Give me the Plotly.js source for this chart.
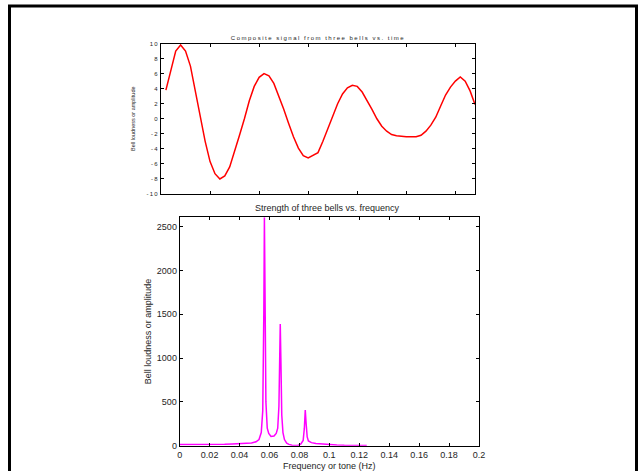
<!DOCTYPE html>
<html>
<head>
<meta charset="utf-8">
<script src="https://cdn.plot.ly/plotly-3.0.1.min.js"></script>
<style>
html, body { margin: 0; padding: 0; background: #fff; }
#chart { width: 639px; height: 471px; }
#chart .gtitle { letter-spacing: 1.5px; }
#chart .ytick text { letter-spacing: 1.2px; }
</style>
</head>
<body>
<div id="chart"></div>
<script>
// Top plot: composite signal (sample index vs amplitude)
const sampleIndex = [1,2,3,4,5,6,7,8,9,10,11,12,13,14,15,16,17,18,19,20,21,22,23,24,25,26,27,28,29,30,31,32,33,34,35,36,37,38,39,40,41,42,43,44,45,46,47,48,49,50,51,52,53,54,55,56,57,58,59,60,61,62,63,64];
const signalValues = [3.8, 6.5, 9.0, 9.8, 9.0, 7.0, 3.8, 0.3, -3.0, -5.7, -7.3, -8.0, -7.6, -6.4, -4.4, -2.2, 0.0, 2.4, 4.3, 5.5, 6.0, 5.7, 4.7, 3.1, 1.3, -0.6, -2.4, -3.9, -4.9, -5.2, -4.9, -4.5, -3.0, -1.3, 0.4, 2.0, 3.3, 4.1, 4.45, 4.3, 3.55, 2.45, 1.25, 0.0, -1.0, -1.65, -2.1, -2.25, -2.35, -2.4, -2.4, -2.4, -2.2, -1.65, -0.85, 0.2, 1.7, 3.15, 4.2, 5.0, 5.55, 5.0, 3.7, 1.9];
const topXTicks = [0, 10, 20, 30, 40, 50, 60];
const topYTickVals = [-10, -8, -6, -4, -2, 0, 2, 4, 6, 8, 10];
const topYTickText = ["-10", "-8", "-6", "-4", "-2", "0", "2", "4", "6", "8", "10"];

// Bottom plot: spectrum (frequency vs strength)
const frequency = [0, 0.005, 0.01, 0.015, 0.02, 0.025, 0.03, 0.035, 0.04, 0.045, 0.048, 0.051, 0.053, 0.0545, 0.0555, 0.0562, 0.0566, 0.057, 0.0576, 0.0585, 0.0595, 0.061, 0.063, 0.0645, 0.0655, 0.0663, 0.0668, 0.0672, 0.0676, 0.0682, 0.069, 0.07, 0.0715, 0.073, 0.075, 0.077, 0.079, 0.081, 0.0825, 0.0833, 0.0839, 0.0845, 0.0852, 0.086, 0.088, 0.091, 0.095, 0.1, 0.105, 0.11, 0.115, 0.12, 0.125];
const strength = [15, 14, 14, 14, 14, 15, 16, 19, 22, 27, 30, 45, 70, 150, 400, 1500, 2607, 1800, 500, 200, 140, 105, 110, 140, 200, 450, 1000, 1390, 1000, 350, 150, 70, 30, 15, 5, 0, 3, 20, 60, 200, 407, 250, 100, 55, 35, 25, 18, 12, 8, 5, 4, 3, 3];
const bottomXTicks = [0, 0.02, 0.04, 0.06, 0.08, 0.1, 0.12, 0.14, 0.16, 0.18, 0.2];
const bottomYTicks = [0, 500, 1000, 1500, 2000, 2500];

const FONT = "Liberation Sans, Arial, Helvetica, sans-serif";
const TXT = '#1e1e1e';

const traces = [
  {
    x: sampleIndex, y: signalValues, xaxis: 'x', yaxis: 'y',
    type: 'scatter', mode: 'lines',
    line: { color: '#ff0000', width: 1.5 },
    hoverinfo: 'skip', showlegend: false
  },
  {
    x: frequency, y: strength, xaxis: 'x2', yaxis: 'y2',
    type: 'scatter', mode: 'lines',
    line: { color: '#ff00ff', width: 1.5 },
    hoverinfo: 'skip', showlegend: false, cliponaxis: true
  }
];

const axisCommon = {
  showline: true, linecolor: '#000', linewidth: 1,
  mirror: 'ticks', ticks: 'inside', ticklen: 3, tickcolor: '#000',
  showgrid: false, zeroline: false, automargin: false
};

const layout = {
  width: 639, height: 471,
  margin: { l: 0, r: 0, t: 0, b: 0, pad: 0 },
  paper_bgcolor: '#fff', plot_bgcolor: '#fff',
  font: { family: FONT, color: TXT, size: 9 },
  showlegend: false,
  title: {
    text: 'Composite signal from three bells vs. time',
    font: { family: FONT, size: 6, color: TXT },
    x: 318 / 639, xanchor: 'center', xref: 'paper',
    y: 1 - 37.7 / 471, yanchor: 'middle', yref: 'paper'
  },
  xaxis: Object.assign({}, axisCommon, {
    domain: [161 / 639, 475 / 639], anchor: 'y',
    range: [0, 64], tickmode: 'array', tickvals: topXTicks,
    showticklabels: false
  }),
  yaxis: Object.assign({}, axisCommon, {
    domain: [1 - 194 / 471, 1 - 43.5 / 471], anchor: 'x',
    range: [-10, 10], tickmode: 'array', tickvals: topYTickVals, ticktext: topYTickText,
    tickfont: { family: FONT, size: 6, color: TXT },
    title: { text: 'Bell loudness or amplitude', font: { family: FONT, size: 5.5, color: TXT }, standoff: 14 }
  }),
  xaxis2: Object.assign({}, axisCommon, {
    domain: [179.7 / 639, 479 / 639], anchor: 'y2',
    range: [0, 0.2], tickmode: 'array', tickvals: bottomXTicks,
    tickfont: { family: FONT, size: 9, color: TXT },
    title: { text: 'Frequency or tone (Hz)', font: { family: FONT, size: 9, color: TXT }, standoff: 4 }
  }),
  yaxis2: Object.assign({}, axisCommon, {
    domain: [1 - 445.7 / 471, 1 - 217.3 / 471], anchor: 'x2',
    range: [0, 2607], tickmode: 'array', tickvals: bottomYTicks,
    tickfont: { family: FONT, size: 9, color: TXT },
    title: { text: 'Bell loudness or amplitude', font: { family: FONT, size: 9, color: TXT }, standoff: 3 }
  }),
  annotations: [
    {
      text: 'Strength of three bells vs. frequency',
      xref: 'paper', yref: 'paper',
      x: 327.7 / 639, y: 1 - 207.7 / 471, xanchor: 'center', yanchor: 'middle',
      showarrow: false, font: { family: FONT, size: 9, color: TXT }
    }
  ],
  shapes: [
    {
      type: 'rect', xref: 'paper', yref: 'paper',
      x0: 9.5 / 639, x1: 636.5 / 639, y0: -0.2, y1: 1 - 6 / 471,
      line: { color: '#000', width: 3 }, fillcolor: 'rgba(0,0,0,0)', layer: 'below'
    }
  ]
};

Plotly.newPlot('chart', traces, layout, { staticPlot: true, displayModeBar: false });
</script>
</body>
</html>
